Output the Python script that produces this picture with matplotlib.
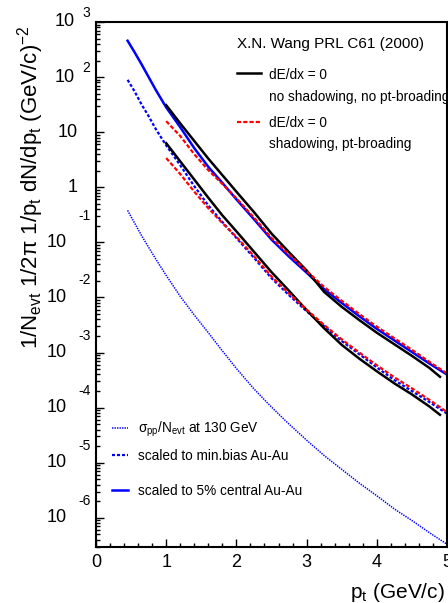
import matplotlib
matplotlib.use("Agg")
import numpy as np
import matplotlib.pyplot as plt
from matplotlib.lines import Line2D
from matplotlib.ticker import LogLocator, MultipleLocator, NullFormatter, FixedLocator

plt.rcParams['font.family'] = ['Liberation Sans', 'DejaVu Sans']
plt.rcParams['mathtext.fontset'] = 'custom'
plt.rcParams['mathtext.rm'] = 'Liberation Sans'
plt.rcParams['mathtext.it'] = 'Liberation Sans'
plt.rcParams['lines.scale_dashes'] = False

# ---------------- data (log10 of the yield) ----------------
pt_blue = [0.45, 0.55, 0.65, 0.75, 0.85, 1.0, 1.2, 1.4, 1.6, 1.8, 2.0, 2.25, 2.5,
           2.75, 3.0, 3.25, 3.5, 3.75, 4.0, 4.25, 4.5, 4.75, 5.0]
log_pp_130 = [-0.42, -0.65, -0.88, -1.09, -1.30, -1.60, -1.98, -2.32, -2.64, -2.97,
              -3.29, -3.66, -3.99, -4.30, -4.59, -4.87, -5.12, -5.37, -5.60, -5.84,
              -6.05, -6.27, -6.48]
log_central_5pct = [2.66, 2.45, 2.23, 2.00, 1.77, 1.45, 1.09, 0.71, 0.37, 0.08,
                    -0.22, -0.58, -0.95, -1.26, -1.55, -1.85, -2.10, -2.34, -2.57,
                    -2.78, -2.99, -3.20, -3.40]
log_min_bias = [1.95, 1.74, 1.50, 1.29, 1.06, 0.76, 0.40, 0.02, -0.33, -0.63,
                -0.92, -1.28, -1.65, -1.96, -2.25, -2.52, -2.79, -3.03, -3.27,
                -3.50, -3.70, -3.90, -4.11]

pt_noshad = [1.0, 1.2, 1.4, 1.6, 1.8, 2.0, 2.25, 2.5, 2.75, 3.0, 3.25, 3.5, 3.75,
             4.0, 4.25, 4.5, 4.75, 4.9]
log_noshad_central = [1.49, 1.16, 0.84, 0.52, 0.22, -0.08, -0.45, -0.84, -1.18,
                      -1.51, -1.90, -2.17, -2.41, -2.64, -2.85, -3.06, -3.28, -3.44]
log_noshad_minbias = [0.80, 0.47, 0.14, -0.19, -0.51, -0.80, -1.17, -1.54, -1.88,
                      -2.23, -2.56, -2.86, -3.11, -3.34, -3.56, -3.76, -3.98, -4.13]

pt_shad = [1.0, 1.2, 1.4, 1.6, 1.8, 2.0, 2.25, 2.5, 2.75, 3.0, 3.25, 3.5, 3.75,
           4.0, 4.25, 4.5, 4.75, 5.0]
log_shad_central = [1.20, 0.93, 0.60, 0.31, 0.06, -0.20, -0.55, -0.92, -1.22,
                    -1.52, -1.81, -2.06, -2.30, -2.53, -2.74, -2.95, -3.17, -3.38]
log_shad_minbias = [0.53, 0.24, -0.08, -0.38, -0.65, -0.90, -1.25, -1.62, -1.93,
                    -2.22, -2.50, -2.76, -3.00, -3.23, -3.45, -3.65, -3.86, -4.08]

x_ticks = [0, 1, 2, 3, 4, 5]
y_exponents = [3, 2, 1, 0, -1, -2, -3, -4, -5, -6]

BLUE = '#0000ff'
RED = '#ff0000'


def lin(vals):
    return 10.0 ** np.asarray(vals)


W, H = 448, 603
fig = plt.figure(figsize=(W / 100, H / 100), dpi=100)
ax = fig.add_axes([96 / W, 1 - 547 / H, 351 / W, (547 - 22) / H])


def fx(px):
    return px / W


def fy(py):
    return 1 - py / H


# curves
ax.plot(pt_blue, lin(log_pp_130), color=BLUE, lw=1.1, dashes=(1.0, 0.8))
ax.plot(pt_blue, lin(log_min_bias), color=BLUE, lw=1.6, dashes=(2.2, 1.4))
ax.plot(pt_blue, lin(log_central_5pct), color=BLUE, lw=1.8)
ax.plot(pt_noshad, lin(log_noshad_central), color='black', lw=1.8)
ax.plot(pt_noshad, lin(log_noshad_minbias), color='black', lw=1.8)
ax.plot(pt_shad, lin(log_shad_central), color=RED, lw=1.6, dashes=(3.0, 1.5))
ax.plot(pt_shad, lin(log_shad_minbias), color=RED, lw=1.6, dashes=(3.0, 1.5))

ax.set_yscale('log')
ax.set_xlim(0, 5)
ax.set_ylim(10 ** -6.53, 1e3)

for s in ax.spines.values():
    s.set_linewidth(1.5)

ax.xaxis.set_major_locator(FixedLocator(x_ticks))
ax.xaxis.set_minor_locator(MultipleLocator(0.2))
ax.yaxis.set_major_locator(LogLocator(base=10, numticks=20))
ax.yaxis.set_minor_locator(LogLocator(base=10, subs=range(2, 10), numticks=20))
ax.yaxis.set_major_formatter(NullFormatter())
ax.yaxis.set_minor_formatter(NullFormatter())
ax.tick_params(which='both', direction='in', top=False, right=False, width=1.0)
ax.tick_params(which='major', length=6)
ax.tick_params(which='minor', length=3)
ax.tick_params(axis='x', labelsize=13, pad=5)
ax.set_xticklabels([str(v) for v in x_ticks])

# y tick labels in ROOT style
ytr = ax.get_yaxis_transform()
for e in y_exponents:
    if e == 0:
        ax.text(-0.053, 10.0 ** e, "1", transform=ytr, ha='right', va='center', fontsize=13)
    elif e == 1:
        ax.text(-0.053, 10.0 ** e, "10", transform=ytr, ha='right', va='center', fontsize=13)
    elif e > 0:
        ax.text(-0.060, 10.0 ** e, "10", transform=ytr, ha='right', va='center', fontsize=13)
        ax.text(-0.040, 10.0 ** (e + 9 / 55.1), str(e), transform=ytr, ha='left',
                va='center', fontsize=10)
    else:
        raise_px = 26 if e == -1 else 17
        ax.text(-0.083, 10.0 ** e, "10", transform=ytr, ha='right', va='center', fontsize=13)
        ax.text(-0.015, 10.0 ** (e + raise_px / 55.1), str(e), transform=ytr, ha='right',
                va='center', fontsize=10)

# axis titles
fig.text(fx(31), fy(187),
         r"1/N$_{\rm evt}$ 1/2$\pi$ 1/p$_{\rm t}$ dN/dp$_{\rm t}$ (GeV/c)$^{-2}$",
         rotation=90, ha='center', va='center', fontsize=16)
fig.text(fx(445), fy(593), r"p$_{\rm t}$ (GeV/c)", ha='right', va='center', fontsize=15)

# upper legend
fig.text(fx(237), fy(44), "X.N. Wang PRL C61 (2000)", ha='left', va='center', fontsize=11)
fig.add_artist(Line2D([fx(237), fx(261)], [fy(73), fy(73)], color='black', lw=1.8))
fig.text(fx(269), fy(75), "dE/dx = 0", ha='left', va='center', fontsize=9.8)
fig.text(fx(269), fy(97), "no shadowing, no pt-broading", ha='left', va='center',
         fontsize=9.8)
fig.add_artist(Line2D([fx(237), fx(261)], [fy(122), fy(122)], color=RED, lw=1.6,
                      dashes=(3.0, 1.5)))
fig.text(fx(269), fy(123), "dE/dx = 0", ha='left', va='center', fontsize=9.8)
fig.text(fx(269), fy(144), "shadowing, pt-broading", ha='left', va='center', fontsize=9.8)

# lower legend
fig.add_artist(Line2D([fx(112), fx(128)], [fy(428), fy(428)], color=BLUE, lw=1.1,
                      dashes=(1.0, 0.8)))
fig.text(fx(138), fy(429), r"$\sigma_{\rm pp}$/N$_{\rm evt}$ at 130 GeV", ha='left',
         va='center', fontsize=9.8)
fig.add_artist(Line2D([fx(112), fx(128)], [fy(455), fy(455)], color=BLUE, lw=1.6,
                      dashes=(2.2, 1.4)))
fig.text(fx(138), fy(456), "scaled to min.bias Au-Au", ha='left', va='center',
         fontsize=9.8)
fig.add_artist(Line2D([fx(112), fx(128)], [fy(490), fy(490)], color=BLUE, lw=1.8))
fig.text(fx(138), fy(491), "scaled to 5% central Au-Au", ha='left', va='center',
         fontsize=9.8)

fig.savefig("out.png", dpi=100)
